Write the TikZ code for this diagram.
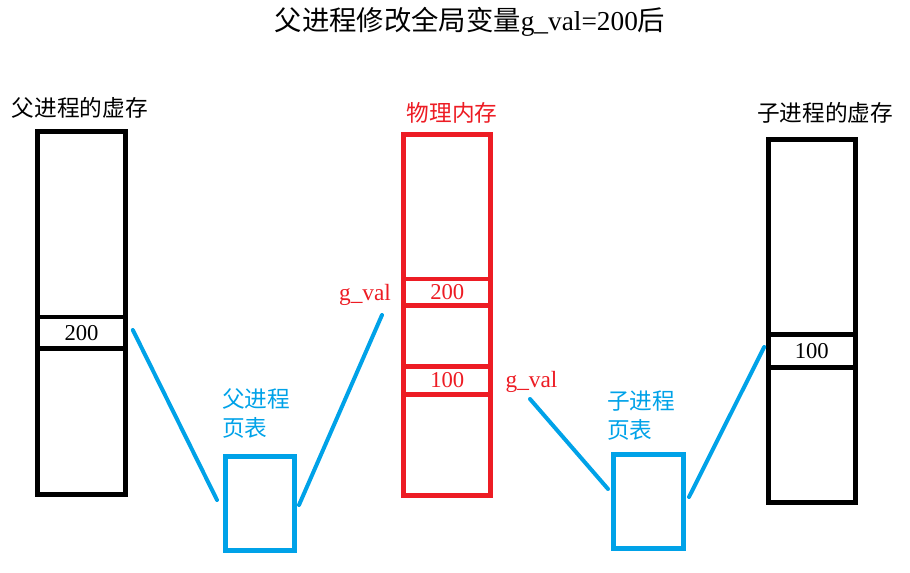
\documentclass[tikz,border=0pt]{standalone}
\usepackage{fontspec}
\setmainfont{Liberation Serif}
\newfontfamily\cjk{Noto Sans CJK SC}
\usetikzlibrary{positioning, calc}
\definecolor{paintred}{RGB}{237,28,36}
\definecolor{paintblue}{RGB}{0,162,232}
\tikzset{
  vmem/.style={draw, line width=3.75pt, rectangle, inner sep=0pt},
  memcell/.style={draw, line width=3.5pt, rectangle, inner sep=0pt, font=\fontsize{17}{20}\selectfont},
  link/.style={paintblue, line width=3pt, line cap=round},
  lbl/.style={font=\cjk\fontsize{17}{21.75}\selectfont, inner sep=0pt},
  varname/.style={font=\fontsize{17.5}{20}\selectfont, paintred, inner sep=0pt},
}

\begin{document}
\begin{tikzpicture}[x=0.75pt,y=-0.75pt]
                \useasboundingbox (0,0) rectangle (910,573);
                \node[font=\fontsize{20.5}{24}\selectfont] (title) at (470,22) {{\cjk 父进程修改全局变量}g\_val=200{\cjk 后}};
                % parent virtual memory
                \node[lbl] (vmLlbl) at (80,108) {父进程的虚存};
                \node[vmem, minimum width=66pt, minimum height=272.6pt] (vmL) at (81.5,312.75) {};
                \node[memcell, minimum width=66pt, minimum height=23.6pt] (cellL) at (81.5,332.75) {200};
                % physical memory
                \node[lbl, paintred] (pmlbl) at (452,113) {物理内存};
                \node[vmem, paintred, minimum width=64.9pt, minimum height=270.4pt] (pm) at (447.25,315.25) {};
                \node[memcell, paintred, minimum width=64.9pt, minimum height=19.9pt] (cellA) at (447.25,292.25) {200};
                \node[memcell, paintred, minimum width=64.9pt, minimum height=21pt] (cellB) at (447.25,380.5) {100};
                \node[varname] (gvalL) at (365,295) {g\_val};
                \node[varname] (gvalR) at (531.5,382) {g\_val};
                % child virtual memory
                \node[lbl] (vmRlbl) at (825,113) {子进程的虚存};
                \node[vmem, minimum width=65.6pt, minimum height=272.25pt] (vmR) at (811.75,321) {};
                \node[memcell, minimum width=65.6pt, minimum height=24.75pt] (cellR) at (811.75,351) {100};
                % page tables
                \node[vmem, paintblue, minimum width=51.75pt, minimum height=70.5pt] (ptL) at (260,503.5) {};
                \node[vmem, paintblue, minimum width=52.5pt, minimum height=70.5pt] (ptR) at (648.5,501.5) {};
                \node[lbl, paintblue, align=left, anchor=west] (ptLlbl) at (222,413.5) {父进程\\页表};
                \node[lbl, paintblue, align=left, anchor=west] (ptRlbl) at (607,415.5) {子进程\\页表};
                % links
                \draw[link] ($(cellL.east)+(5,-2.75)$) -- ($(ptL.west)+(-6,-3.5)$);
                \draw[link] ($(ptL.east)+(2,1.5)$) -- ($(gvalL.center)+(17,20)$);
                \draw[link] ($(gvalR.center)+(-1.5,17)$) -- ($(ptR.west)+(-3,-12.5)$);
                \draw[link] ($(ptR.east)+(3,-4.5)$) -- ($(cellR.west)+(-1.5,-4)$);
            \end{tikzpicture}
\end{document}
